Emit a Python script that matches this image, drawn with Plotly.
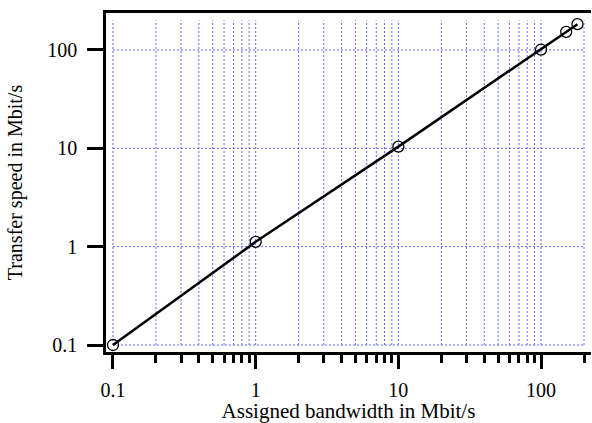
import plotly.graph_objects as go

# ---- data ----
bandwidth = [0.1, 1, 10, 100, 150, 180]          # Assigned bandwidth (Mbit/s)
speed = [0.1, 1.12, 10.4, 101, 153, 183]         # Transfer speed (Mbit/s)

x_major = [0.1, 1, 10, 100]
x_major_text = ["0.1", "1", "10", "100"]
x_minor = [0.2, 0.3, 0.4, 0.5, 0.6, 0.7, 0.8, 0.9,
           2, 3, 4, 5, 6, 7, 8, 9,
           20, 30, 40, 50, 60, 70, 80, 90, 200]
y_major = [0.1, 1, 10, 100]
y_major_text = ["0.1", "1", "10", "100"]
grid_lo, grid_hi = 0.1, 200

FONT = "Liberation Serif, Times New Roman, serif"
GRID = "#6464ff"

fig = go.Figure()
fig.add_trace(go.Scatter(
    x=bandwidth, y=speed, mode="lines+markers",
    line=dict(color="black", width=2.5),
    marker=dict(symbol="circle-open", size=11, color="black", line=dict(width=1.3)),
    showlegend=False, cliponaxis=False, hoverinfo="skip",
))

shapes = []
for xv in x_major + x_minor:
    shapes.append(dict(type="line", xref="x", yref="y", x0=xv, x1=xv, y0=grid_lo, y1=grid_hi,
                       line=dict(color=GRID, width=1, dash="2px,2px"), layer="below"))
for yv in y_major:
    shapes.append(dict(type="line", xref="x", yref="y", x0=grid_lo, x1=grid_hi, y0=yv, y1=yv,
                       line=dict(color=GRID, width=1, dash="2px,2px"), layer="below"))

fig.update_layout(
    width=592, height=423,
    margin=dict(l=106, r=1, t=13, b=71),
    paper_bgcolor="white", plot_bgcolor="white",
    font=dict(family=FONT, size=18, color="black"),
    shapes=shapes,
    xaxis=dict(
        type="log", range=[-1.049, 2.350],
        showgrid=False, zeroline=False,
        showline=True, linecolor="black", linewidth=2.5, mirror=True,
        tickmode="array", tickvals=x_major, ticktext=x_major_text,
        ticks="outside", ticklen=14, tickwidth=2.5, tickcolor="black",
        minor=dict(tickmode="array", tickvals=x_minor, ticks="outside",
                   ticklen=8, tickwidth=2.5, tickcolor="black", showgrid=False),
        ticklabelstandoff=4,
        tickfont=dict(family=FONT, size=20),
        title=dict(text="Assigned bandwidth in Mbit/s", standoff=1,
                   font=dict(family=FONT, size=21)),
    ),
    yaxis=dict(
        type="log", range=[-1.071, 2.376],
        showgrid=False, zeroline=False,
        showline=True, linecolor="black", linewidth=2.5, mirror=False,
        tickmode="array", tickvals=y_major, ticktext=y_major_text,
        ticks="outside", ticklen=16, tickwidth=2.5, tickcolor="black",
        ticklabelstandoff=6,
        tickfont=dict(family=FONT, size=20),
        title=dict(text="Transfer speed in Mbit/s", standoff=20,
                   font=dict(family=FONT, size=20)),
    ),
)

fig.write_html("out.html", config={"displayModeBar": False},
               post_script="document.body.style.margin='0px';")
